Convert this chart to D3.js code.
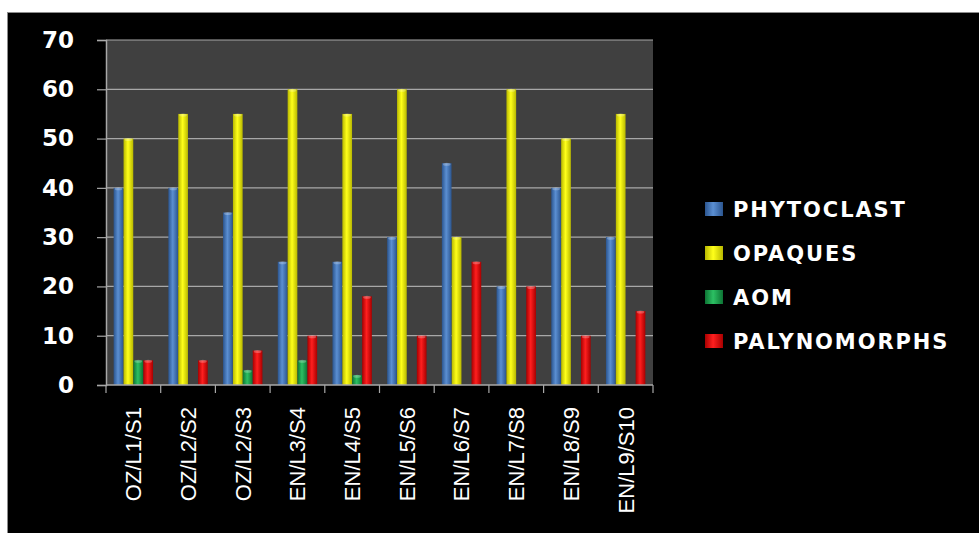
<!DOCTYPE html>
<html>
<head>
<meta charset="utf-8">
<script src="https://cdn.jsdelivr.net/npm/d3@7"></script>
<style>
  html, body { margin: 0; padding: 0; background: #ffffff; }
  svg { display: block; }
</style>
</head>
<body>
<div id="chart"></div>
<script>
// sample names along the x axis
var categories = ["OZ/L1/S1", "OZ/L2/S2", "OZ/L2/S3", "EN/L3/S4", "EN/L4/S5",
                  "EN/L5/S6", "EN/L6/S7", "EN/L7/S8", "EN/L8/S9", "EN/L9/S10"];

// one array per series
var phytoclast   = [40, 40, 35, 25, 25, 30, 45, 20, 40, 30];
var opaques      = [50, 55, 55, 60, 55, 60, 30, 60, 50, 55];
var aom          = [5, 0, 3, 5, 2, 0, 0, 0, 0, 0];
var palynomorphs = [5, 5, 7, 10, 18, 10, 25, 20, 10, 15];

var seriesNames = ["PHYTOCLAST", "OPAQUES", "AOM", "PALYNOMORPHS"];
var yTicks = [0, 10, 20, 30, 40, 50, 60, 70];

var width = 979, height = 533;

//// SETTINGS ////////////////////////////////////////////////////////////////
var plot = { left: 106, right: 653, top: 40, bottom: 385 };

// colours: [edge, centre] for the cylinder-ish shading
var palette = {
    PHYTOCLAST:   ["#2b558f", "#5b8fd2"],
    OPAQUES:      ["#b8b800", "#ffff1a"],
    AOM:          ["#0d7434", "#2cc063"],
    PALYNOMORPHS: ["#a80000", "#ff1f1f"]
};

var seriesValues = {
    PHYTOCLAST: phytoclast,
    OPAQUES: opaques,
    AOM: aom,
    PALYNOMORPHS: palynomorphs
};

//// UI SETUP ////////////////////////////////////////////////////////////////
var svg = d3.select("#chart").append("svg")
            .attr("width", width)
            .attr("height", height);

// white margin top / left, then the black chart area
svg.append("rect").attr("width", width).attr("height", height).attr("fill", "#ffffff");
svg.append("rect")
    .attr("x", 7).attr("y", 12)
    .attr("width", width - 7).attr("height", height - 12)
    .attr("fill", "#000000");
svg.append("line")
    .attr("x1", 7).attr("x2", width).attr("y1", 12.5).attr("y2", 12.5)
    .attr("stroke", "#8c8c8c").attr("stroke-width", 1);
svg.append("line")
    .attr("x1", 7.5).attr("x2", 7.5).attr("y1", 12).attr("y2", height)
    .attr("stroke", "#8c8c8c").attr("stroke-width", 1);

var defs = svg.append("defs");
seriesNames.forEach(function(name, i) {
    var g = defs.append("linearGradient")
        .attr("id", "grad" + i)
        .attr("x1", "0%").attr("x2", "100%").attr("y1", "0%").attr("y2", "0%");
    g.append("stop").attr("offset", "0%").attr("stop-color", palette[name][0]);
    g.append("stop").attr("offset", "45%").attr("stop-color", palette[name][1]);
    g.append("stop").attr("offset", "100%").attr("stop-color", palette[name][0]);
});

var x0 = d3.scaleBand()
    .domain(categories)
    .range([plot.left, plot.right])
    .paddingInner(0.28)
    .paddingOuter(0.14);

var x1 = d3.scaleBand()
    .domain(seriesNames)
    .range([0, x0.bandwidth()])
    .paddingInner(0.02);

var y = d3.scaleLinear()
    .domain([0, 70])
    .range([plot.bottom, plot.top]);

// plot background
svg.append("rect")
    .attr("x", plot.left).attr("y", plot.top)
    .attr("width", plot.right - plot.left)
    .attr("height", plot.bottom - plot.top)
    .attr("fill", "#404040");

// gridlines
svg.append("g")
    .selectAll("line")
    .data(yTicks.filter(function(t) { return t > 0; }))
    .join("line")
    .attr("x1", plot.left).attr("x2", plot.right)
    .attr("y1", function(d) { return y(d); })
    .attr("y2", function(d) { return y(d); })
    .attr("stroke", "#a8a8a8")
    .attr("stroke-width", 1.2);

// bars
var groups = svg.append("g")
    .selectAll("g")
    .data(categories)
    .join("g")
    .attr("transform", function(d) { return "translate(" + x0(d) + ",0)"; });

groups.selectAll("rect")
    .data(function(d, ci) {
        return seriesNames.map(function(name, si) {
            return { name: name, si: si, value: seriesValues[name][ci] };
        });
    })
    .join("rect")
    .attr("x", function(d) { return x1(d.name); })
    .attr("y", function(d) { return y(d.value); })
    .attr("width", x1.bandwidth())
    .attr("height", function(d) { return y(0) - y(d.value); })
    .attr("fill", function(d) { return "url(#grad" + d.si + ")"; });

// little lighter cap on each bar
groups.selectAll("ellipse")
    .data(function(d, ci) {
        return seriesNames.map(function(name, si) {
            return { name: name, si: si, value: seriesValues[name][ci] };
        }).filter(function(d) { return d.value > 0; });
    })
    .join("ellipse")
    .attr("cx", function(d) { return x1(d.name) + x1.bandwidth() / 2; })
    .attr("cy", function(d) { return y(d.value) + 1; })
    .attr("rx", x1.bandwidth() / 2 - 1)
    .attr("ry", 1.5)
    .attr("fill", "#ffffff")
    .attr("opacity", 0.25);

// y axis
var yAxis = d3.axisLeft(y)
    .tickValues(yTicks)
    .tickSize(9)
    .tickPadding(23)
    .tickFormat(d3.format("d"));

var yg = svg.append("g")
    .attr("transform", "translate(" + plot.left + ",0)")
    .call(yAxis);
yg.select(".domain").attr("stroke", "#a8a8a8").attr("stroke-width", 1.5);
yg.selectAll(".tick line").attr("stroke", "#a8a8a8").attr("stroke-width", 1.2);
yg.selectAll(".tick text")
    .attr("fill", "#ffffff")
    .style("font-family", "'DejaVu Sans', Verdana, sans-serif")
    .style("font-weight", "bold")
    .style("font-size", "23px");

// x axis line and category boundary ticks
svg.append("line")
    .attr("x1", plot.left).attr("x2", plot.right)
    .attr("y1", plot.bottom).attr("y2", plot.bottom)
    .attr("stroke", "#a8a8a8").attr("stroke-width", 1.5);

var boundaries = categories.map(function(c) {
    return x0(c) - x0.step() * x0.paddingOuter();
}).concat([plot.right]);

svg.append("g")
    .selectAll("line")
    .data(boundaries)
    .join("line")
    .attr("x1", function(d) { return d; })
    .attr("x2", function(d) { return d; })
    .attr("y1", plot.bottom).attr("y2", plot.bottom + 8)
    .attr("stroke", "#a8a8a8").attr("stroke-width", 1.2);

// rotated category labels
svg.append("g")
    .selectAll("text")
    .data(categories)
    .join("text")
    .attr("transform", function(d) {
        return "translate(" + (x0(d) + x0.bandwidth() / 2) + "," + (plot.bottom + 22) + ") rotate(-90)";
    })
    .attr("dy", "0.36em")
    .attr("text-anchor", "end")
    .attr("fill", "#ffffff")
    .style("font-family", "'Liberation Sans', Arial, sans-serif")
    .style("font-size", "22px")
    .text(function(d) { return d; });

// legend
var legend = svg.append("g")
    .attr("transform", "translate(705,209)");

var items = legend.selectAll("g")
    .data(seriesNames)
    .join("g")
    .attr("transform", function(d, i) { return "translate(0," + (i * 44) + ")"; });

items.append("rect")
    .attr("x", 0).attr("y", -7)
    .attr("width", 18).attr("height", 14)
    .attr("fill", function(d, i) { return "url(#grad" + i + ")"; });

items.append("text")
    .attr("x", 28)
    .attr("dy", "0.36em")
    .attr("fill", "#ffffff")
    .style("font-family", "'DejaVu Sans', Verdana, sans-serif")
    .style("font-weight", "bold")
    .style("font-size", "21px")
    .style("letter-spacing", "1.9px")
    .text(function(d) { return d; });
</script>
</body>
</html>
